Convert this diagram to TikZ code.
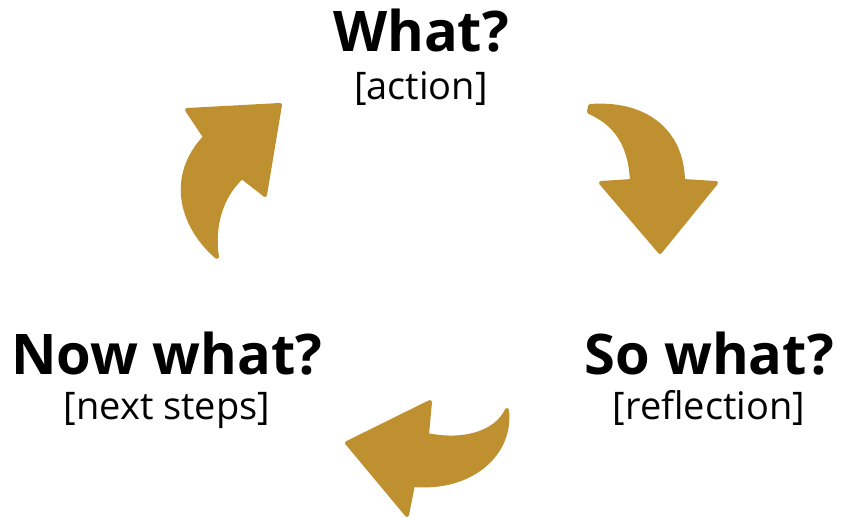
\documentclass[tikz,border=0pt]{standalone}
\usepackage{fontspec}
\setmainfont{Open Sans}
\definecolor{gold}{RGB}{190,144,48}
\begin{document}
\begin{tikzpicture}[x=1pt,y=-1pt,
  arrowshape/.style={fill=gold,draw=gold,line width=4pt,line join=round},
  title/.style={anchor=base,font=\bfseries\fontsize{56}{60}\selectfont,inner sep=0pt},
  sub/.style={anchor=base,font=\fontsize{38}{42}\selectfont,inner sep=0pt}]
\useasboundingbox (0,0) rectangle (847,518);
% top-right arrow
\path[arrowshape] (590,106) .. controls (642,102) and (682,128) .. (683,181)
  -- (716,183) -- (660,252) -- (601,183) -- (632,181)
  .. controls (630,140) and (612,122) .. (589,112) -- cycle;
% top-left arrow
\path[arrowshape] (205,137) -- (187,110) -- (280,105) -- (265,195) -- (242,177)
  .. controls (222,195) and (212,225) .. (217,257)
  .. controls (185,230) and (165,180) .. (205,137) -- cycle;
% bottom arrow
\path[arrowshape] (347,443) -- (430,402) -- (427,435)
  .. controls (460,442) and (495,435) .. (507,410)
  .. controls (512,455) and (470,490) .. (413,485) -- (407,515) -- cycle;
\node[title] (what) at (421,52) {What?};
\node[sub] (action) at (421,100) {[action]};
\node[title] (now) at (167,375) {Now what?};
\node[sub] (next) at (167,420) {[next steps]};
\node[title] (so) at (709,375) {So what?};
\node[sub] (refl) at (709,420) {[reflection]};
\end{tikzpicture}
\end{document}
